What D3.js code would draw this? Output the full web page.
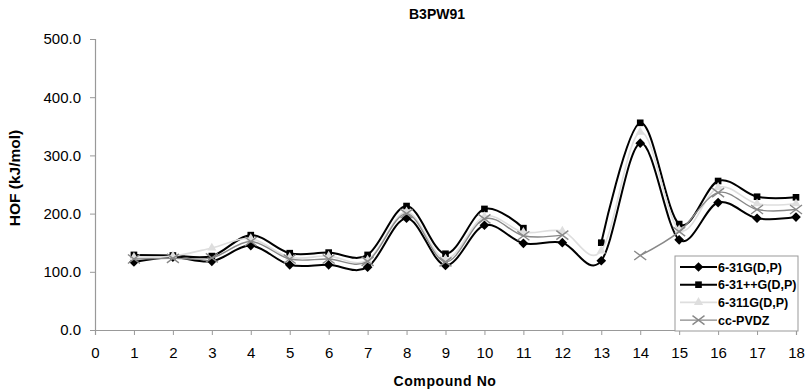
<!DOCTYPE html>
<html>
<head>
<meta charset="utf-8">
<script src="https://cdn.jsdelivr.net/npm/d3@7"></script>
<style>
  body { margin: 0; background: #fff; }
  text { font-family: "Liberation Sans", Arial, sans-serif; }
</style>
</head>
<body>
<svg id="chart" width="805" height="389"></svg>
<script>
// compound numbers and HOF values (kJ/mol), null = no value
var compounds = [1, 2, 3, 4, 5, 6, 7, 8, 9, 10, 11, 12, 13, 14, 15, 16, 17, 18];
var g631 = [117, 125, 118, 145, 112, 112, 108, 192, 111, 180, 149, 150, 119, 321, 155, 219, 192, 194];
var g631pp = [129, 128, 127, 163, 132, 133, 129, 213, 131, 208, 175, null, 150, 356, 182, 256, 229, 228];
var g6311 = [125, 127, 141, 157, 125, 127, 120, 203, 122, 195, 168, 170, 136, 340, 172, 245, 217, 217];
var ccpvdz = [122, 123, 124, 152, 122, 122, 118, 200, 117, 191, 162, 163, null, 128, 169, 236, 207, 207];
var seriesNames = ["6-31G(D,P)", "6-31++G(D,P)", "6-311G(D,P)", "cc-PVDZ"];
var xTicks = d3.range(0, 19);
var yTicks = [0, 100, 200, 300, 400, 500];

var svg = d3.select("#chart");
var plotLeft = 95, plotRight = 796, plotTop = 39, plotBottom = 330;

var x = d3.scaleLinear().domain([0, 18]).range([plotLeft, plotRight]);
var y = d3.scaleLinear().domain([0, 500]).range([plotBottom, plotTop]);

var styles = [
    {line: "#000", width: 2, marker: "diamond", fill: "#000", size: 60},
    {line: "#000", width: 2, marker: "square", fill: "#000", size: 56},
    {line: "#dedede", width: 1.6, marker: "triangle", fill: "#dedede", size: 60},
    {line: "#888", width: 1.4, marker: "x", fill: "#888", size: 6}
];
var allSeries = [g631, g631pp, g6311, ccpvdz].map(function (vals, i) {
    return {
        name: seriesNames[i],
        style: styles[i],
        points: compounds.map(function (c, j) { return {x: c, v: vals[j]}; })
    };
});

// axes
var yAxis = d3.axisLeft(y).tickValues(yTicks).tickSize(5).tickFormat(d3.format(".1f"));
var xAxis = d3.axisBottom(x).tickValues(xTicks).tickSize(5).tickFormat(d3.format("d"));

var gy = svg.append("g").attr("transform", "translate(" + plotLeft + ",0)").call(yAxis);
var gx = svg.append("g").attr("transform", "translate(0," + plotBottom + ")").call(xAxis);
[gx, gy].forEach(function (g) {
    g.select(".domain").attr("stroke", "#999").attr("stroke-width", 1.2);
    g.selectAll(".tick line").attr("stroke", "#999");
    g.selectAll(".tick text").attr("fill", "#000").style("font-size", "15px");
});
gy.selectAll(".tick text").attr("x", -14);
gx.selectAll(".tick text").attr("y", 17);

function drawMarker(g, style, cx, cy) {
    if (style.marker === "x") {
        var s = style.size;
        g.append("path")
            .attr("d", "M" + (cx - s) + "," + (cy - s * 0.75) + "L" + (cx + s) + "," + (cy + s * 0.75) +
                "M" + (cx - s) + "," + (cy + s * 0.75) + "L" + (cx + s) + "," + (cy - s * 0.75))
            .attr("stroke", style.fill)
            .attr("stroke-width", 1.4)
            .attr("fill", "none");
    } else {
        var type = style.marker === "diamond" ? d3.symbolDiamond2 :
            style.marker === "square" ? d3.symbolSquare2 : d3.symbolTriangle2;
        var sym = d3.symbol().type(type).size(style.size);
        g.append("path")
            .attr("d", sym())
            .attr("transform", "translate(" + cx + "," + cy + ")")
            .attr("fill", style.fill);
    }
}

var line = d3.line()
    .defined(function (d) { return d.v !== null; })
    .x(function (d) { return x(d.x); })
    .y(function (d) { return y(d.v); })
    .curve(d3.curveCardinal.tension(0));

allSeries.forEach(function (s) {
    var g = svg.append("g");
    g.append("path")
        .datum(s.points)
        .attr("d", line)
        .attr("fill", "none")
        .attr("stroke", s.style.line)
        .attr("stroke-width", s.style.width);
    s.points.forEach(function (p) {
        if (p.v !== null) {
            drawMarker(g, s.style, x(p.x), y(p.v));
        }
    });
});

// legend
var lg = svg.append("g").attr("transform", "translate(675,256)");
lg.append("rect")
    .attr("width", 123).attr("height", 75)
    .attr("fill", "#fff").attr("stroke", "#999").attr("stroke-width", 1);
allSeries.forEach(function (s, i) {
    var ly = 11 + i * 17.7;
    lg.append("line")
        .attr("x1", 5).attr("x2", 42).attr("y1", ly).attr("y2", ly)
        .attr("stroke", s.style.line).attr("stroke-width", s.style.width);
    drawMarker(lg, s.style, 23.5, ly);
    lg.append("text")
        .attr("x", 43).attr("y", ly + 4.5)
        .style("font-size", "12.5px").style("font-weight", "bold")
        .text(s.name);
});

// titles
svg.append("text")
    .attr("x", 437).attr("y", 19)
    .attr("text-anchor", "middle")
    .style("font-size", "14px").style("font-weight", "bold")
    .text("B3PW91");
svg.append("text")
    .attr("x", 445).attr("y", 386)
    .attr("text-anchor", "middle")
    .style("font-size", "14px").style("font-weight", "bold")
    .style("letter-spacing", "0.6px")
    .text("Compound No");
svg.append("text")
    .attr("transform", "translate(20,178) rotate(-90)")
    .attr("text-anchor", "middle")
    .style("font-size", "15.5px").style("font-weight", "bold")
    .text("HOF (kJ/mol)");
</script>
</body>
</html>
